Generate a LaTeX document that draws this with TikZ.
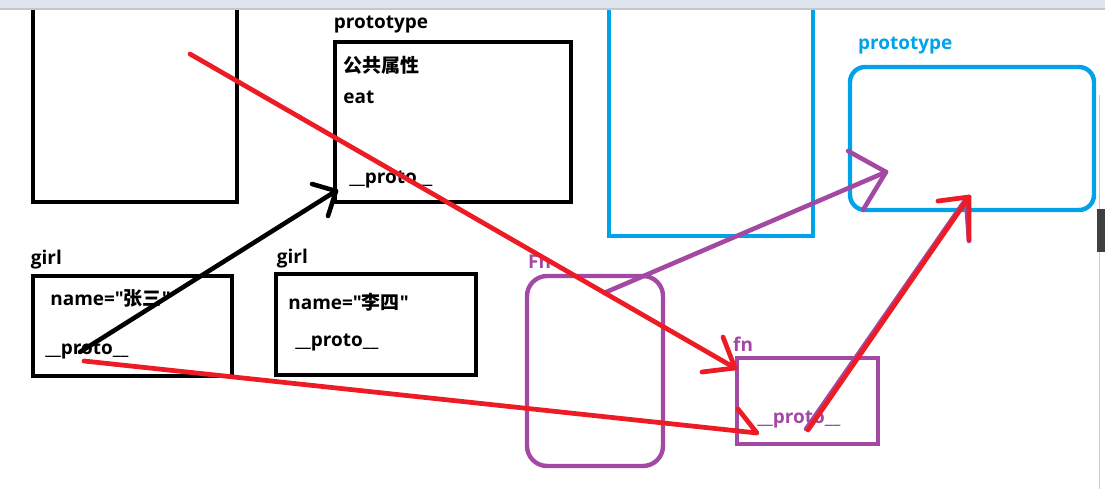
\documentclass[tikz,border=0pt]{standalone}
\usepackage{fontspec}
\setmainfont{Open Sans}[Ligatures=TeXOff]
\newfontfamily\cjk{Noto Sans CJK SC}
\usetikzlibrary{positioning}
\definecolor{penred}{RGB}{237,28,36}
\definecolor{penblue}{RGB}{0,162,232}
\definecolor{penpurple}{RGB}{163,73,164}
\definecolor{barfill}{RGB}{222,229,239}
\tikzset{
	objbox/.style={draw=black,line width=2.8pt,inner sep=0pt},
	bluebox/.style={draw=penblue,line width=2.5pt,inner sep=0pt},
	purplebox/.style={draw=penpurple,line width=2.5pt,inner sep=0pt},
	mytext/.style={font=\bfseries\fontsize{10.8}{13}\selectfont,inner sep=0pt},
	blackpen/.style={draw=black,line width=2.6pt,line cap=round,line join=round},
	redpen/.style={draw=penred,line width=2.7pt,line cap=round,line join=round},
	purplepen/.style={draw=penpurple,line width=2.6pt,line cap=round,line join=round}
}

\begin{document}
\begin{tikzpicture}[x=0.02cm,y=-0.02cm]
		\useasboundingbox (0,0) rectangle (1105,489);
		% black objects
		\node[objbox,minimum width=4.08cm,minimum height=4.04cm](ctor) at (135,101){};
		\node[objbox,minimum width=4.72cm,minimum height=3.2cm](proto) at (453,122){};
		\node[mytext,above right = 0.12cm and 0.02cm of proto.north west](protolbl){prototype};
		\node[mytext,anchor=west](pubattr) at (343,65){\cjk 公共属性};
		\node[mytext,anchor=west](eat) at (343,97){eat};
		\node[mytext,anchor=west](protoproto) at (349,180){\_\_proto\_\_};
		\node[objbox,minimum width=3.98cm,minimum height=2cm](girlA) at (132.5,326){};
		\node[mytext,above right = 0.08cm and 0cm of girlA.north west](girlAlbl){girl};
		\node[mytext,anchor=west](nameA) at (50,298){name="{\cjk 张三}"};
		\node[mytext,anchor=west](protoA) at (45,350){\_\_proto\_\_};
		\node[objbox,minimum width=4cm,minimum height=2.02cm](girlB) at (376,324.5){};
		\node[mytext,above right = 0.06cm and 0.06cm of girlB.north west](girlBlbl){girl};
		\node[mytext,anchor=west](nameB) at (288,302){name="{\cjk 李四}"};
		\node[mytext,anchor=west](protoB) at (295,342){\_\_proto\_\_};
		% blue objects
		\node[bluebox,minimum width=4.08cm,minimum height=4.8cm](blueobj) at (711,116){};
		\node[bluebox,rounded corners=0.3cm,minimum width=4.88cm,minimum height=2.86cm](blueproto) at (972,138.5){};
		\node[mytext,text=penblue,above right = 0.2cm and 0.2cm of blueproto.north west](blueprotolbl){prototype};
		% purple objects
		\node[purplebox,rounded corners=0.4cm,minimum width=2.72cm,minimum height=3.8cm](Fn) at (595,371){};
		\node[mytext,text=penpurple,above right = 0.09cm and 0.06cm of Fn.north west](Fnlbl){Fn};
		\node[purplebox,minimum width=2.82cm,minimum height=1.72cm](fn) at (807.5,401){};
		\node[mytext,text=penpurple,above right = 0.07cm and -0.04cm of fn.north west](fnlbl){fn};
		\node[mytext,text=penpurple,anchor=west](fnproto) at (757,419){\_\_proto\_\_};
		% window bits
		\fill[barfill] (0,0) rectangle (1105,9);
		\draw[gray!45,line width=0.6pt] (0,9) -- (1105,9);
		\draw[gray!40,line width=0.5pt] (1099,95) -- (1099,489);
		\fill[black!75] (1097,209) rectangle (1105,252);
		% arrows
		\coordinate (blkTail) at (80,352);
		\coordinate (blkTip) at (336,191);
		\draw[blackpen] (blkTail) -- (blkTip);
		\draw[blackpen] ([shift={(-24,-7)}]blkTip) -- (blkTip) -- ([shift={(-8,25)}]blkTip);
		\coordinate (purTail) at (604,293);
		\coordinate (purTip) at (886,172);
		\draw[purplepen] (purTail) -- (purTip);
		\draw[purplepen] ([shift={(-38,-21)}]purTip) -- (purTip) -- ([shift={(-23,38)}]purTip);
		\coordinate (pur2Tail) at (806,429);
		\coordinate (pur2Tip) at (966,199);
		\draw[purplepen] (pur2Tail) -- (pur2Tip) -- ([shift={(3,42)}]pur2Tip);
		\coordinate (redTailA) at (190,54);
		\coordinate (redTipA) at (735,368);
		\draw[redpen] (redTailA) -- (redTipA);
		\draw[redpen] ([shift={(-33,4)}]redTipA) -- (redTipA) -- ([shift={(-12,-31)}]redTipA);
		\coordinate (redTailB) at (84,361);
		\coordinate (redTipB) at (757,433);
		\draw[redpen] (redTailB) -- (redTipB) -- ([shift={(-19,-24)}]redTipB);
		\coordinate (redTailC) at (808,430);
		\coordinate (redTipC) at (969,197);
		\draw[redpen] (redTailC) -- (redTipC);
		\draw[redpen] ([shift={(-31,4)}]redTipC) -- (redTipC) -- ([shift={(0,43)}]redTipC);
	\end{tikzpicture}
\end{document}
